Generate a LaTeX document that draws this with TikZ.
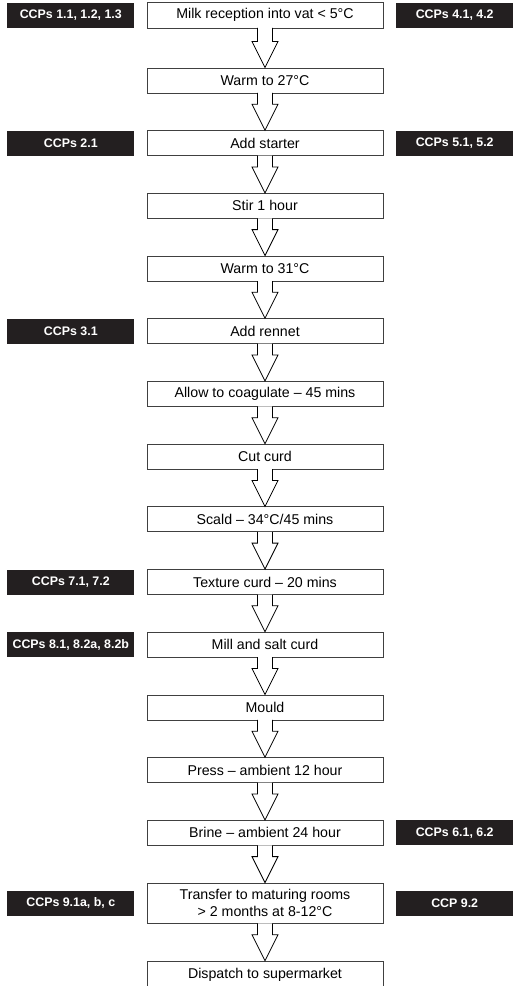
\documentclass[tikz,border=0pt]{standalone}
\usepackage{fontspec}
\setmainfont{Liberation Sans}
\usepackage{tikz}
\usetikzlibrary{positioning, calc}

\definecolor{ccpdark}{RGB}{35,31,32}

\begin{document}
\begin{tikzpicture}[
    x=1pt, y=1pt,
    node distance=36.7pt,
    stage/.style={draw=black!75, line width=1pt, fill=white,
                  minimum width=236pt, minimum height=25pt, inner sep=2pt,
                  font=\fontsize{14.2}{17}\selectfont, align=center},
    ccpleft/.style={fill=ccpdark, text=white, minimum width=127pt,
                    minimum height=25pt, inner sep=1pt,
                    font=\fontsize{12.4}{14}\selectfont\bfseries},
    ccpright/.style={ccpleft, minimum width=118pt},
    fatarrow/.style={draw=black, line width=0.8pt, fill=white,
                     line join=miter}
]
\useasboundingbox (0,0) rectangle (513,-986);
\clip (0,0) rectangle (513,-986);

%---------------- Process stages ----------------
\node[stage, minimum height=26pt] (milk) at (265,-15) {Milk reception into vat < 5°C};
\node[stage, below=39pt of milk] (warmA) {Warm to 27°C};
\node[stage, below=of warmA] (starter) {Add starter};
\node[stage, below=of starter] (stir) {Stir 1 hour};
\node[stage, below=of stir] (warmB) {Warm to 31°C};
\node[stage, below=of warmB] (rennet) {Add rennet};
\node[stage, below=of rennet] (coag) {Allow to coagulate – 45 mins};
\node[stage, below=of coag] (cut) {Cut curd};
\node[stage, below=of cut] (scald) {Scald – 34°C/45 mins};
\node[stage, below=of scald] (texture) {Texture curd – 20 mins};
\node[stage, below=of texture] (mill) {Mill and salt curd};
\node[stage, below=of mill] (mould) {Mould};
\node[stage, below=of mould] (press) {Press – ambient 12 hour};
\node[stage, below=of press] (brine) {Brine – ambient 24 hour};
\node[stage, below=of brine, minimum height=40.4pt] (transfer)
    {Transfer to maturing rooms\\> 2 months at 8-12°C};
\node[stage, below=of transfer, minimum height=27pt] (dispatch) {Dispatch to supermarket};

%---------------- Critical control points ----------------
\node[ccpleft, left=12pt of milk] (ccp1) {CCPs 1.1, 1.2, 1.3};
\node[ccpright, right=12pt of milk] (ccp4) {CCPs 4.1, 4.2};
\node[ccpleft, left=12pt of starter] (ccp2) {CCPs 2.1};
\node[ccpright, right=12pt of starter] (ccp5) {CCPs 5.1, 5.2};
\node[ccpleft, left=12pt of rennet] (ccp3) {CCPs 3.1};
\node[ccpleft, left=12pt of texture] (ccp7) {CCPs 7.1, 7.2};
\node[ccpleft, left=12pt of mill] (ccp8) {CCPs 8.1, 8.2a, 8.2b};
\node[ccpright, right=12pt of brine] (ccp6) {CCPs 6.1, 6.2};
\node[ccpleft, left=12pt of transfer] (ccp9a) {CCPs 9.1a, b, c};
\node[ccpright, right=12pt of transfer] (ccp9b) {CCP 9.2};

%---------------- Block arrows between stages ----------------
\foreach \a/\b in {milk/warmA, warmA/starter, starter/stir, stir/warmB,
                   warmB/rennet, rennet/coag, coag/cut, cut/scald,
                   scald/texture, texture/mill, mill/mould, mould/press,
                   press/brine, brine/transfer, transfer/dispatch}
  \draw[fatarrow] ($(\a.south)+(-7.5,0.6)$) -- ($(\b.north)+(-7.5,26)$)
      -- ++(-5.5,0) -- (\b.north) -- ++(13,26) -- ++(-5.5,0)
      -- ($(\a.south)+(7.5,0.6)$);

\end{tikzpicture}
\end{document}
